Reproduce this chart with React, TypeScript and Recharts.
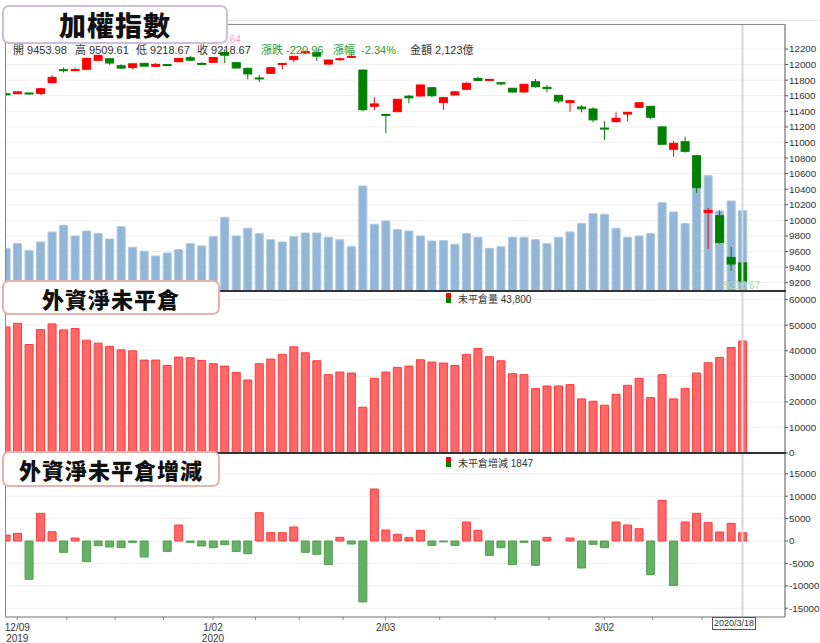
import { Bar, Cell, ComposedChart, CartesianGrid, ReferenceLine, XAxis, YAxis } from "recharts";

// 65 trading days, 2019/12/06 – 2020/03/18
const dates = [
  "12/06", "12/09", "12/10", "12/11", "12/12", "12/13", "12/16", "12/17", "12/18", "12/19",
  "12/20", "12/23", "12/24", "12/25", "12/26", "12/27", "12/30", "12/31", "1/02", "1/03",
  "1/06", "1/07", "1/08", "1/09", "1/10", "1/13", "1/14", "1/15", "1/16", "1/17",
  "1/20", "1/30", "1/31", "2/03", "2/04", "2/05", "2/06", "2/07", "2/10", "2/11",
  "2/12", "2/13", "2/14", "2/17", "2/18", "2/19", "2/20", "2/21", "2/24", "2/25",
  "2/26", "2/27", "3/02", "3/03", "3/04", "3/05", "3/06", "3/09", "3/10", "3/11",
  "3/12", "3/13", "3/16", "3/17", "3/18",
];

const openPx = [
  11625, 11626, 11635, 11630, 11768, 11935, 11928, 11940, 12055, 12075,
  11985, 11962, 12016, 11978, 12000, 12037, 12088, 12015, 12030, 12157,
  12024, 11952, 11828, 11888, 12005, 12063, 12150, 12157, 12007, 12068,
  12095, 11930, 11465, 11360, 11395, 11595, 11597, 11703, 11512, 11610,
  11683, 11822, 11800, 11767, 11696, 11648, 11780, 11708, 11605, 11512,
  11455, 11430, 11185, 11267, 11365, 11451, 11464, 11200, 10912, 11010,
  10830, 10100, 10060, 9525, 9453.98,
];
const highPx = [
  11640, 11655, 11640, 11700, 11866, 11965, 11960, 12085, 12122, 12080,
  12005, 12015, 12020, 12020, 12010, 12085, 12110, 12030, 12095, 12197.64,
  12030, 11960, 11870, 11965, 12018, 12110, 12180, 12165, 12062, 12090,
  12120, 11935, 11580, 11362, 11558, 11610, 11745, 11710, 11580, 11660,
  11770, 11845, 11815, 11772, 11700, 11752, 11815, 11738, 11610, 11540,
  11481, 11450, 11275, 11387, 11390, 11515, 11470, 11205, 11019, 11074,
  10835, 10160, 10130, 9662, 9509.61,
];
const lowPx = [
  11605, 11622, 11610, 11612, 11760, 11898, 11920, 11935, 12050, 11995,
  11945, 11940, 11975, 11970, 11985, 12030, 12045, 12002, 12025, 12020,
  11950, 11810, 11775, 11880, 11943, 12029, 12140, 12046, 12000, 12050,
  12085, 11400, 11417, 11120, 11390, 11503, 11590, 11580, 11420, 11605,
  11678, 11790, 11795, 11735, 11640, 11642, 11705, 11645, 11503, 11395,
  11387, 11259, 11032, 11260, 11275, 11445, 11297, 10970, 10817, 10870,
  10350, 9630, 9700, 9350, 9218.67,
];
const closePx = [
  11620, 11650, 11625, 11690, 11836, 11927, 11935, 12080, 12119, 12020,
  11955, 12010, 11980, 12003, 11995, 12080, 12057, 12005, 12090, 12120,
  11956, 11880, 11817, 11960, 12015, 12106, 12165, 12108, 12059, 12075,
  12106, 11421, 11495, 11354, 11555, 11573, 11738, 11600, 11575, 11650,
  11760, 11797, 11810, 11752, 11648, 11747, 11716, 11692, 11532, 11536,
  11432, 11290, 11177, 11310, 11387, 11510, 11323, 10977, 10989, 10886,
  10422, 10128, 9717, 9439.63, 9218.67,
];

// turnover, 億
const amount = [
  1129, 1251, 1066, 1296, 1560, 1737, 1454, 1586, 1516, 1375,
  1700, 1155, 1050, 925, 1005, 1092, 1251, 1190, 1436, 1949,
  1454, 1658, 1516, 1356, 1296, 1436, 1534, 1534, 1420, 1356,
  1171, 2776, 1764, 1851, 1621, 1586, 1454, 1322, 1330, 1234,
  1516, 1420, 1129, 1171, 1420, 1420, 1356, 1251, 1420, 1560,
  1780, 2044, 2028, 1658, 1420, 1454, 1516, 2335, 2089, 1780,
  2860, 3049, 2115, 2380, 2123,
];

// foreign net open interest (contracts)
const netOI = [
  49350, 50760, 42460, 48300, 50520, 48180, 48700, 44150, 42980, 41680,
  40390, 39990, 36360, 36360, 34280, 37530, 37270, 36230, 34930, 34020,
  31550, 28570, 34930, 36750, 38570, 41550, 39210, 36100, 30650, 31680,
  31290, 17920, 29220, 31680, 33500, 34020, 36490, 35580, 35190, 34280,
  38570, 40900, 37660, 36100, 31030, 30650, 25190, 26230, 26230, 26750,
  21170, 20260, 18700, 22980, 26490, 29220, 21690, 30650, 21170, 25320,
  31290, 35320, 37400, 41290, 43800,
];

const oiChange = [
  1340, 1710, -8550, 6180, 2080, -2530, 670, -4610, -1040, -1340,
  -1490, -300, -3570, 0, -2310, 3570, -300, -1120, -1490, -820,
  -2310, -2830, 6320, 1860, 1860, 3120, -2530, -2980, -5280, 820,
  -670, -13600, 11600, 2450, 1490, 740, 2380, -970, -200, -970,
  4240, 2380, -3200, -1490, -5280, -300, -5430, 820, 0, 670,
  -6030, -740, -1490, 4240, 3570, 2750, -7510, 9080, -9900, 4240,
  6180, 4090, 2010, 3940, 1847,
];

const priceTicks = [9200, 9400, 9600, 9800, 10000, 10200, 10400, 10600, 10800, 11000, 11200, 11400, 11600, 11800, 12000, 12200];
const oiTicks = [0, 10000, 20000, 30000, 40000, 50000, 60000];
const chgTicks = [-15000, -10000, -5000, 0, 5000, 10000, 15000];

const majorDays = ["12/09", "1/02", "2/03", "3/02"];
const majorYears = ["2019", "2020", "", ""];
const minorTicks = [5.3, 9.5, 13.7, 21.7, 25.5, 29.3, 37.7, 42.5, 47.2, 56.2, 60.5];

const header = [
  { text: "開 9453.98", color: "#333", left: 13 },
  { text: "高 9509.61", color: "#333", left: 75 },
  { text: "低 9218.67", color: "#333", left: 136 },
  { text: "收 9218.67", color: "#333", left: 197 },
  { text: "漲跌 -220.96", color: "#2f9a2f", left: 261 },
  { text: "漲幅  -2.34%", color: "#2f9a2f", left: 333 },
  { text: "金額 2,123億", color: "#333", left: 410 },
];

const rows = dates.map((date, i) => ({
  i,
  date,
  open: openPx[i],
  close: closePx[i],
  range: [lowPx[i], highPx[i]],
  amount: amount[i],
  oi: netOI[i],
  chg: oiChange[i],
}));

const lastIdx = dates.length - 1;
const majorIdx = majorDays.map((d) => dates.indexOf(d));
const xDomain: [number, number] = [-0.07, 67.7];

const FONT = "'Liberation Sans', Arial, 'Noto Sans CJK TC', sans-serif";
const CJK = "'Liberation Sans', 'Noto Sans CJK TC', sans-serif";
const tickStyle = { fill: "#333", fontSize: 9.8, fontFamily: FONT };

function Candle(props: any) {
  const { x, width, payload } = props;
  let { y, height } = props;
  if (height < 0) {
    y += height;
    height = -height;
  }
  const [lo, hi] = payload.range;
  const k = hi === lo ? 0 : height / (hi - lo);
  const yO = y + (hi - payload.open) * k;
  const yC = y + (hi - payload.close) * k;
  const color = payload.close > payload.open ? "#ff0000" : "#008000";
  const top = Math.min(yO, yC);
  const bh = Math.max(1, Math.abs(yO - yC));
  const cx = x + width / 2;
  return (
    <g>
      <line x1={cx} x2={cx} y1={y} y2={y + height} stroke={color} strokeWidth={1} />
      <rect x={x} y={top} width={width} height={bh} fill={color} stroke={color} strokeWidth={1} />
    </g>
  );
}

function DayTick(props: any) {
  const { x, y, payload } = props;
  const k = majorIdx.indexOf(payload.value);
  return (
    <g>
      <line x1={x} x2={x} y1={y} y2={y + 3} stroke="#888" />
      {k >= 0 && (
        <text x={x} y={y + 14} textAnchor="middle" fill="#333" fontSize={10} fontFamily={FONT}>
          {majorDays[k]}
        </text>
      )}
      {k >= 0 && majorYears[k] && (
        <text x={x} y={y + 25} textAnchor="middle" fill="#333" fontSize={10} fontFamily={FONT}>
          {majorYears[k]}
        </text>
      )}
    </g>
  );
}

function TitleBox({ text, top, height, width, border, size }: any) {
  return (
    <div
      style={{
        position: "absolute",
        left: 2,
        top,
        width,
        height,
        boxSizing: "border-box",
        border: `2px solid ${border}`,
        borderRadius: 7,
        background: "#fff",
        display: "flex",
        alignItems: "center",
        justifyContent: "center",
        fontFamily: "'Noto Sans CJK TC', sans-serif",
        fontWeight: 900,
        fontSize: size,
        color: "#111",
        letterSpacing: 1,
      }}
    >
      {text}
    </div>
  );
}

function Legend({ top, label }: any) {
  return (
    <div style={{ position: "absolute", left: 446, top, height: 12, display: "flex", alignItems: "center" }}>
      <div style={{ width: 5, height: 10, marginRight: 7 }}>
        <div style={{ height: 5, background: "#ff0000" }} />
        <div style={{ height: 5, background: "#008000" }} />
      </div>
      <span style={{ fontSize: 10, fontFamily: CJK, color: "#333", whiteSpace: "nowrap" }}>{label}</span>
    </div>
  );
}

const rightAxis = {
  orientation: "right" as const,
  width: 35,
  allowDataOverflow: true,
  interval: 0 as const,
  tick: tickStyle,
  tickSize: 3,
  tickMargin: 1,
  axisLine: { stroke: "#555" },
  tickLine: { stroke: "#555" },
};

export default function App() {
  return (
    <div
      style={{
        position: "absolute",
        left: 0,
        top: 0,
        width: 820,
        height: 643,
        background: "#fff",
        overflow: "hidden",
        fontFamily: FONT,
      }}
    >
      {/* 加權指數 */}
      <div style={{ position: "absolute", left: 0, top: 0 }}>
        <ComposedChart
          width={820}
          height={300}
          data={rows}
          margin={{ top: 24, right: 0, bottom: 9, left: 5 }}
          barSize={8}
          barGap={-8}
        >
          <CartesianGrid yAxisId="px" vertical={false} stroke="#eeeeee" />
          <XAxis type="number" dataKey="i" domain={xDomain} allowDataOverflow hide />
          <YAxis yAxisId="px" {...rightAxis} domain={[9093, 12521]} ticks={priceTicks} />
          <YAxis yAxisId="vol" hide domain={[0, 7060]} allowDataOverflow />
          <ReferenceLine yAxisId="px" x={lastIdx} stroke="#d6d6d6" strokeWidth={2} />
          <Bar
            yAxisId="vol"
            dataKey="amount"
            fill="#93b5d6"
            stroke="#a9c6e3"
            strokeWidth={1}
            isAnimationActive={false}
          />
          <Bar
            yAxisId="px"
            dataKey="range"
            shape={(p: any) => <Candle {...p} />}
            isAnimationActive={false}
          />
        </ComposedChart>
      </div>

      {/* 外資淨未平倉 */}
      <div style={{ position: "absolute", left: 0, top: 291 }}>
        <ComposedChart width={820} height={170} data={rows} margin={{ top: 0, right: 0, bottom: 8, left: 5 }} barSize={8}>
          <CartesianGrid vertical={false} stroke="#eeeeee" />
          <XAxis type="number" dataKey="i" domain={xDomain} allowDataOverflow hide />
          <YAxis {...rightAxis} domain={[0, 63400]} ticks={oiTicks} />
          <ReferenceLine x={lastIdx} stroke="#d6d6d6" strokeWidth={2} />
          <Bar dataKey="oi" fill="#ff6868" stroke="#ff3a3a" strokeWidth={1} isAnimationActive={false} />
        </ComposedChart>
      </div>

      {/* 外資淨未平倉增減 */}
      <div style={{ position: "absolute", left: 0, top: 453 }}>
        <ComposedChart width={820} height={190} data={rows} margin={{ top: 0, right: 0, bottom: 0, left: 5 }} barSize={8}>
          <CartesianGrid vertical={false} stroke="#eeeeee" />
          <XAxis
            type="number"
            dataKey="i"
            domain={xDomain}
            allowDataOverflow
            height={26}
            ticks={[...majorIdx, ...minorTicks]}
            interval={0}
            tick={<DayTick />}
            tickSize={0}
            tickMargin={0}
            tickLine={false}
            axisLine={{ stroke: "#777" }}
          />
          <YAxis {...rightAxis} domain={[-16960, 19640]} ticks={chgTicks} />
          <ReferenceLine x={lastIdx} stroke="#d6d6d6" strokeWidth={2} />
          <Bar dataKey="chg" strokeWidth={1} isAnimationActive={false}>
            {rows.map((r) => (
              <Cell
                key={r.i}
                fill={r.chg >= 0 ? "#ff6868" : "#66b166"}
                stroke={r.chg >= 0 ? "#ff3a3a" : "#4f9f4f"}
              />
            ))}
          </Bar>
        </ComposedChart>
      </div>

      {/* frame lines */}
      <div style={{ position: "absolute", left: 228, top: 20, width: 592, height: 1, background: "#e2e2e2" }} />
      <div style={{ position: "absolute", left: 5, top: 24, width: 780, height: 1, background: "#8a8a8a" }} />
      <div style={{ position: "absolute", left: 5, top: 24, width: 1, height: 593, background: "#8a8a8a" }} />
      <div style={{ position: "absolute", left: 5, top: 290, width: 781, height: 2, background: "#333" }} />
      <div style={{ position: "absolute", left: 5, top: 452, width: 781, height: 2, background: "#333" }} />

      {/* header values */}
      <div
        style={{ position: "absolute", left: 199, top: 34, fontSize: 10, color: "#f5a3c4", fontFamily: FONT }}
      >
        12197.64
      </div>
      {header.map((h) => (
        <div
          key={h.text}
          style={{
            position: "absolute",
            left: h.left,
            top: 44,
            fontSize: 11,
            color: h.color,
            fontFamily: CJK,
            whiteSpace: "pre",
            lineHeight: "12px",
          }}
        >
          {h.text}
        </div>
      ))}
      <div style={{ position: "absolute", left: 724, top: 280, fontSize: 10, color: "#a9d8a9", fontFamily: FONT }}>
        9218.67
      </div>

      <Legend top={292} label="未平倉量 43,800" />
      <Legend top={456} label="未平倉增減 1847" />

      <TitleBox text="加權指數" top={5} height={39} width={226} border="#cbbfdc" size={27} />
      <TitleBox text="外資淨未平倉" top={280} height={35} width={218} border="#e6b3b3" size={22} />
      <TitleBox text="外資淨未平倉增減" top={451} height={36} width={218} border="#e6b3b3" size={22} />

      {/* date box at crosshair */}
      <div
        style={{
          position: "absolute",
          left: 712,
          top: 617,
          width: 44,
          height: 13,
          boxSizing: "border-box",
          border: "1px solid #555",
          background: "#fff",
          fontSize: 9,
          lineHeight: "11px",
          textAlign: "center",
          color: "#333",
          fontFamily: FONT,
        }}
      >
        2020/3/18
      </div>
    </div>
  );
}
